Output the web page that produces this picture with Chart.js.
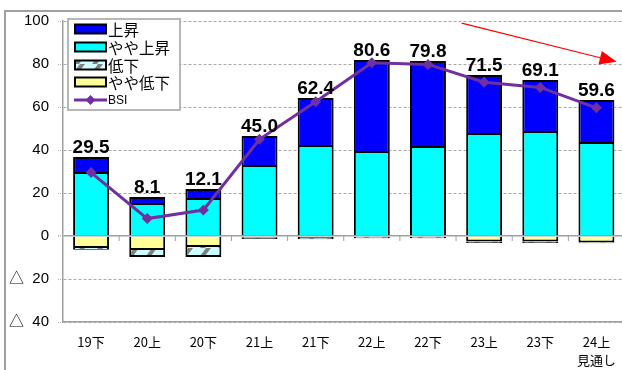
<!DOCTYPE html>
<html>
<head>
<meta charset="utf-8">
<script src="https://cdn.jsdelivr.net/npm/chart.js@4/dist/chart.umd.min.js"></script>
<style>
  html, body { margin: 0; padding: 0; background: #fff; overflow: hidden; }
  #wrap { position: absolute; left: 0; top: 0; width: 630px; height: 370px; }
</style>
</head>
<body>
<div id="wrap"><canvas id="c" width="630" height="370"></canvas></div>
<script>
// ---- data ----
const categories = ['19下', '20上', '20下', '21上', '21下', '22上', '22下', '23上', '23下', ['24上', '見通し']];
const rise       = [6.9, 2.8, 4.2, 13.5, 21.9, 42.4, 39.5, 27.0, 23.8, 19.6];   // 上昇
const slightRise = [29.8, 15.3, 17.7, 33.0, 42.3, 39.5, 41.9, 47.9, 48.8, 43.7]; // やや上昇
const slightFall = [-5.6, -6.5, -5.1, -0.8, -0.9, -0.3, -0.3, -2.5, -2.5, -3.0]; // やや低下
const fall       = [-0.8, -3.3, -4.7, -0.6, -0.6, -0.8, -0.8, -0.8, -0.8, -0.4]; // 低下
const bsi        = [29.5, 8.1, 12.1, 45.0, 62.4, 80.6, 79.8, 71.5, 69.1, 59.6];
const bsiLabels  = ['29.5', '8.1', '12.1', '45.0', '62.4', '80.6', '79.8', '71.5', '69.1', '59.6'];
const yTicks      = [-40, -20, 0, 20, 40, 60, 80, 100];
const yTickLabels = ['△  40', '△  20', '0', '20', '40', '60', '80', '100'];
const legendNames = ['上昇', 'やや上昇', '低下', 'やや低下', 'BSI'];
// trend arrow (category index, value): start, end
const trendArrow = [[6.6, 99], [9.36, 81]];

// ---- hatch pattern for 低下 ----
function makeHatch() {
  const p = document.createElement('canvas');
  p.width = 18; p.height = 8;
  const g = p.getContext('2d');
  g.fillStyle = '#ccffff';
  g.fillRect(0, 0, 18, 8);
  g.fillStyle = '#808080';
  g.beginPath();
  g.moveTo(2, 8); g.lineTo(7, 8); g.lineTo(13, 0); g.lineTo(8, 0); g.closePath();
  g.fill();
  return document.getElementById('c').getContext('2d').createPattern(p, 'repeat');
}
const hatch = makeHatch();

const FONT = '"Liberation Sans", Arial, "Noto Sans CJK JP", sans-serif';
const JFONT = '"Noto Sans CJK JP", "Liberation Sans", sans-serif';

const colors = {
  rise: '#0000ff', slightRise: '#00ffff', fall: hatch, slightFall: '#ffff99', bsi: '#7030a0'
};

const decor = {
  id: 'decor',
  beforeDraw(chart) {
    const ctx = chart.ctx;
    ctx.save();
    ctx.strokeStyle = '#a0a0a0';
    ctx.lineWidth = 2;
    ctx.strokeRect(5, 11, 800, 500);
    ctx.restore();
  },
  afterDatasetsDraw(chart) {
    const ctx = chart.ctx;
    const xs = chart.scales.x, ys = chart.scales.y;
    ctx.save();
    // zero line ticks at category boundaries
    const y0 = ys.getPixelForValue(0);
    ctx.strokeStyle = '#a0a0a0';
    ctx.lineWidth = 1;
    for (let i = 0; i < categories.length; i++) {
      const xb = (xs.getPixelForValue(i) + xs.getPixelForValue(i + 1)) / 2;
      ctx.beginPath(); ctx.moveTo(xb, y0); ctx.lineTo(xb, y0 + 5); ctx.stroke();
    }
    // value labels above stacks
    ctx.fillStyle = '#000';
    ctx.font = 'bold 19px ' + FONT;
    ctx.textAlign = 'center';
    ctx.textBaseline = 'alphabetic';
    for (let i = 0; i < categories.length; i++) {
      const top = ys.getPixelForValue(rise[i] + slightRise[i]);
      ctx.fillText(bsiLabels[i], xs.getPixelForValue(i), top - 4);
    }
    // red trend arrow
    const x1 = xs.getPixelForValue(trendArrow[0][0]), y1 = ys.getPixelForValue(trendArrow[0][1]);
    const x2 = xs.getPixelForValue(trendArrow[1][0]), y2 = ys.getPixelForValue(trendArrow[1][1]);
    const ang = Math.atan2(y2 - y1, x2 - x1);
    const hl = 17, hw = 7;
    const bx = x2 - hl * Math.cos(ang), by = y2 - hl * Math.sin(ang);
    ctx.strokeStyle = '#ff0000'; ctx.fillStyle = '#ff0000'; ctx.lineWidth = 1.2;
    ctx.beginPath(); ctx.moveTo(x1, y1); ctx.lineTo(bx, by); ctx.stroke();
    ctx.beginPath();
    ctx.moveTo(x2, y2);
    ctx.lineTo(bx + hw * Math.sin(ang), by - hw * Math.cos(ang));
    ctx.lineTo(bx - hw * Math.sin(ang), by + hw * Math.cos(ang));
    ctx.closePath(); ctx.fill();
    ctx.restore();
  },
  afterDraw(chart) {
    // legend box
    const ctx = chart.ctx;
    ctx.save();
    const lx = 68, ly = 19, lw = 112, lh = 91;
    ctx.fillStyle = '#fff';
    ctx.fillRect(lx, ly, lw, lh);
    ctx.strokeStyle = '#a0a0a0'; ctx.lineWidth = 1.5;
    ctx.strokeRect(lx, ly, lw, lh);
    const fills = [colors.rise, colors.slightRise, colors.fall, colors.slightFall];
    const rows = [29, 47, 65, 82, 100];
    ctx.textBaseline = 'middle'; ctx.textAlign = 'left';
    for (let i = 0; i < 4; i++) {
      const cy = rows[i];
      ctx.fillStyle = fills[i];
      ctx.fillRect(75, cy - 4.5, 31, 9);
      ctx.strokeStyle = '#000'; ctx.lineWidth = 2;
      ctx.strokeRect(75, cy - 4.5, 31, 9);
      ctx.fillStyle = '#000';
      ctx.font = '15.5px ' + JFONT;
      ctx.fillText(legendNames[i], 108, cy + 1);
    }
    const cy = rows[4];
    ctx.strokeStyle = colors.bsi; ctx.lineWidth = 3;
    ctx.beginPath(); ctx.moveTo(74, cy); ctx.lineTo(107, cy); ctx.stroke();
    ctx.fillStyle = colors.bsi;
    ctx.beginPath(); ctx.moveTo(90.5, cy - 5); ctx.lineTo(95.5, cy); ctx.lineTo(90.5, cy + 5); ctx.lineTo(85.5, cy); ctx.closePath(); ctx.fill();
    ctx.fillStyle = '#000';
    ctx.font = '12px ' + FONT;
    ctx.fillText(legendNames[4], 108, cy + 1);
    ctx.restore();
  }
};

new Chart(document.getElementById('c'), {
  data: {
    labels: categories,
    datasets: [
      { type: 'line', label: legendNames[4], data: bsi, borderColor: colors.bsi, backgroundColor: colors.bsi,
        borderWidth: 3, pointStyle: 'rectRot', pointRadius: 5.5, pointBorderWidth: 0, tension: 0, order: 0 },
      { type: 'bar', label: legendNames[1], data: slightRise, backgroundColor: colors.slightRise, borderColor: '#000', borderWidth: 2, stack: 's', order: 1 },
      { type: 'bar', label: legendNames[0], data: rise, backgroundColor: colors.rise, borderColor: '#000', borderWidth: 2, stack: 's', order: 1 },
      { type: 'bar', label: legendNames[3], data: slightFall, backgroundColor: colors.slightFall, borderColor: '#000', borderWidth: 2, stack: 's', order: 1 },
      { type: 'bar', label: legendNames[2], data: fall, backgroundColor: colors.fall, borderColor: '#000', borderWidth: 2, stack: 's', order: 1 }
    ]
  },
  options: {
    responsive: false,
    animation: false,
    devicePixelRatio: 1,
    layout: { padding: { top: 21, right: 4, left: 0, bottom: 0 } },
    datasets: { bar: { barPercentage: 0.64, categoryPercentage: 1 } },
    plugins: { legend: { display: false }, tooltip: { enabled: false } },
    scales: {
      x: {
        stacked: true,
        grid: { display: false, drawTicks: false },
        border: { display: true, color: '#a0a0a0', width: 1.5 },
        ticks: { color: '#000', font: { family: JFONT, size: 13, lineHeight: 1.4 }, padding: 11, maxRotation: 0, autoSkip: false },
        afterFit(s) { s.height = 48; }
      },
      y: {
        stacked: true,
        min: -40, max: 100,
        afterBuildTicks(s) { s.ticks = yTicks.map(v => ({ value: v })); },
        grid: {
          color: ctx => (ctx.tick && ctx.tick.value === 0) ? '#a0a0a0' : '#a8a8a8',
          lineWidth: ctx => (ctx.tick && ctx.tick.value === 0) ? 1.5 : 1,
          tickLength: 5,
          tickColor: '#b0b0b0',
          tickBorderDash: [1, 1]
        },
        border: { display: true, color: '#a0a0a0', width: 1.5, dash: ctx => (ctx.tick && ctx.tick.value === 0) ? [] : [3, 2] },
        ticks: {
          color: '#000', font: { family: FONT, size: 15 }, padding: 9,
          callback: (v) => yTickLabels[yTicks.indexOf(v)]
        },
        afterFit(s) { s.width = 63; }
      }
    }
  },
  plugins: [decor]
});
</script>
</body>
</html>
